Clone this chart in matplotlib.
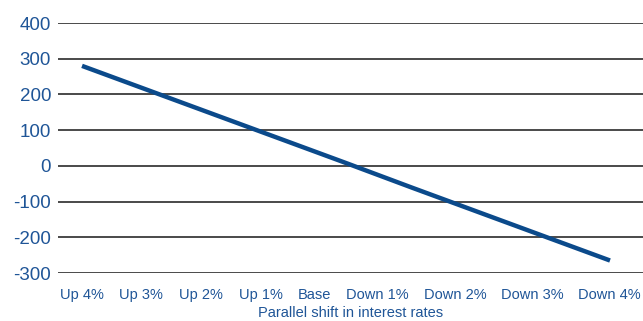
import matplotlib
matplotlib.use("Agg")
import matplotlib.pyplot as plt

categories = ["Up 4%", "Up 3%", "Up 2%", "Up 1%", "Base",
              "Down 1%", "Down 2%", "Down 3%", "Down 4%"]
values = [280, 212, 144, 76, 8, -61, -129, -197, -265]
y_ticks = [-300, -200, -100, 0, 100, 200, 300, 400]

# layout: label centre positions (category units), labels are evenly gapped
label_pos = [0.0, 0.894, 1.803, 2.712, 3.515, 4.470, 5.652, 6.818, 7.985]

blue = "#0b4a8b"
text_blue = "#1f5597"

fig = plt.figure(figsize=(6.43, 3.21), dpi=100)
ax = fig.add_axes([0.0902, 0.1495, 0.9098, 0.7788])

xs = list(range(len(categories)))
ax.plot(xs, values, color=blue, linewidth=3.2, solid_capstyle="butt", zorder=3)

ax.set_ylim(-300, 400)
ax.set_xlim(-0.364, 8.5)
ax.set_yticks(y_ticks)
ax.set_yticklabels([str(v) for v in y_ticks], fontfamily="Liberation Sans",
                   fontsize=13.5, color=text_blue)
for v in y_ticks:
    ax.axhline(v, color="#4a4a4a", linewidth=1.4, zorder=1)

ax.set_xticks(label_pos)
ax.set_xticklabels(categories, fontfamily="Liberation Sans",
                   fontsize=10.5, color=text_blue)
ax.tick_params(axis="both", length=0)
ax.tick_params(axis="y", pad=5)
ax.tick_params(axis="x", pad=10.5)
ax.set_xlabel("Parallel shift in interest rates", fontfamily="Liberation Sans",
              fontsize=10.5, color=text_blue, labelpad=3)
for s in ax.spines.values():
    s.set_visible(False)

fig.savefig("out.png", dpi=100)
